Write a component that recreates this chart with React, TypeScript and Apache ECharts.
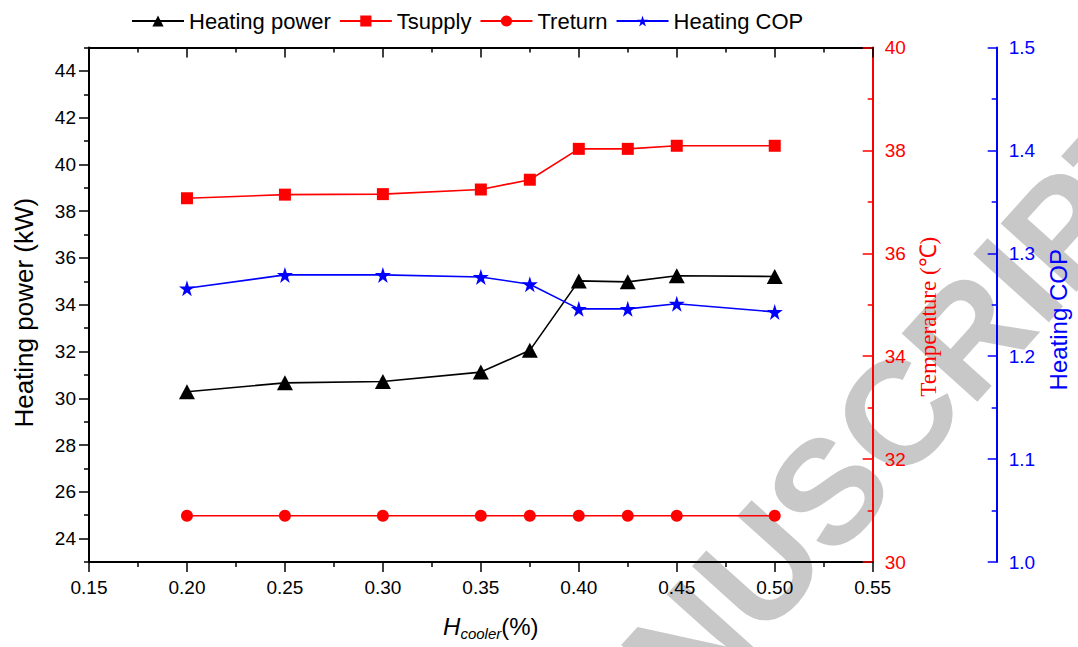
import React, { useEffect, useRef } from 'react';
import * as echarts from 'echarts';

// ---- data ----
const seriesNames = ['Heating power', 'Tsupply', 'Treturn', 'Heating COP'];
const hCooler = [0.2, 0.25, 0.3, 0.35, 0.375, 0.4, 0.425, 0.45, 0.5];
const heatingPower = [30.28, 30.66, 30.72, 31.12, 32.05, 35.02, 34.98, 35.24, 35.21];
const tSupply = [37.07, 37.14, 37.15, 37.24, 37.43, 38.03, 38.03, 38.09, 38.09];
const tReturn = [30.9, 30.9, 30.9, 30.9, 30.9, 30.9, 30.9, 30.9, 30.9];
const heatingCOP = [1.266, 1.279, 1.279, 1.277, 1.270, 1.246, 1.246, 1.251, 1.243];

const xTickLabels = [0.15, 0.2, 0.25, 0.3, 0.35, 0.4, 0.45, 0.5, 0.55];
const powerMajorTicks = [24, 26, 28, 30, 32, 34, 36, 38, 40, 42, 44];
const powerMinorTicks = [23, 25, 27, 29, 31, 33, 35, 37, 39, 41, 43, 45];
const tempRange = [30, 40];
const copRange = [1.0, 1.5];
const powerRange = [23, 45];
const xRange = [0.15, 0.55];

const STAR = 'path://M50,0 L61,35 L98,35 L68,57 L79,91 L50,70 L21,91 L32,57 L2,35 L39,35 Z';
const SANS = 'Liberation Sans, Arial, sans-serif';

export default function App() {
  const ref = useRef<HTMLDivElement>(null);
  useEffect(() => {
    if (!ref.current) return;
    const chart = echarts.init(ref.current, undefined, { renderer: 'svg' });
    const pair = (ys: number[]) => hCooler.map((x, i) => [x, ys[i]]);
    const black = '#000000';
    const red = '#ff0000';
    const blue = '#0000ff';
    const option: any = {
      animation: false,
      backgroundColor: '#ffffff',
      graphic: [
        {
          type: 'text',
          x: 652,
          y: 686,
          rotation: (48 * Math.PI) / 180,
          z: -10,
          silent: true,
          style: {
            text: 'NUSCRIPT',
            font: 'bold 148px "Liberation Sans", Arial, sans-serif',
            fill: '#c8c8c8',
            align: 'left',
            verticalAlign: 'middle',
          },
        },
      ],
      legend: {
        data: seriesNames,
        left: 126,
        top: 5,
        itemWidth: 52,
        itemHeight: 14,
        itemGap: 8,
        textStyle: { fontSize: 22, fontFamily: SANS, color: black },
      },
      grid: { left: 89, right: 204.5, top: 47.5, bottom: 85, containLabel: false },
      xAxis: [
        {
          type: 'value',
          position: 'bottom',
          min: xRange[0],
          max: xRange[1],
          interval: 0.05,
          axisLine: { onZero: false, lineStyle: { color: black, width: 2 } },
          axisTick: { length: 10, lineStyle: { color: black, width: 1.5 } },
          minorTick: { show: true, splitNumber: 2, length: 5, lineStyle: { color: black, width: 1.5 } },
          axisLabel: {
            customValues: xTickLabels,
            margin: 16,
            fontSize: 19,
            fontFamily: SANS,
            color: black,
            formatter: (v: number) => v.toFixed(2),
          },
          splitLine: { show: false },
          name: '{h|H}{s|cooler}{p|(%)}',
          nameLocation: 'middle',
          nameGap: 49,
          nameTextStyle: {
            padding: [0, 0, 0, 20],
            rich: {
              h: { fontSize: 24, fontStyle: 'italic', fontFamily: SANS, color: black, lineHeight: 30 },
              s: { fontSize: 15, fontStyle: 'italic', fontFamily: SANS, color: black, lineHeight: 8, verticalAlign: 'bottom' },
              p: { fontSize: 24, fontFamily: SANS, color: black, lineHeight: 30 },
            },
          },
        },
        {
          type: 'value',
          position: 'top',
          min: xRange[0],
          max: xRange[1],
          interval: 0.05,
          axisLine: { onZero: false, lineStyle: { color: black, width: 2 } },
          axisTick: { inside: true, length: 10, lineStyle: { color: black, width: 1.5 } },
          minorTick: { show: true, splitNumber: 2, length: 5, lineStyle: { color: black, width: 1.5 } },
          axisLabel: { show: false },
          splitLine: { show: false },
        },
      ],
      yAxis: [
        {
          type: 'value',
          position: 'left',
          min: powerRange[0],
          max: powerRange[1],
          axisLine: { show: true, onZero: false, lineStyle: { color: black, width: 2 } },
          axisTick: { show: true, customValues: powerMajorTicks, length: 10, lineStyle: { color: black, width: 1.5 } },
          axisLabel: { customValues: powerMajorTicks, margin: 13, fontSize: 19, fontFamily: SANS, color: black },
          splitLine: { show: false },
          name: 'Heating power (kW)',
          nameLocation: 'middle',
          nameRotate: 90,
          nameGap: 52,
          nameTextStyle: { fontSize: 26, fontFamily: SANS, color: black, padding: [0, 16, 0, 0] },
        },
        {
          type: 'value',
          position: 'left',
          min: powerRange[0],
          max: powerRange[1],
          axisLine: { show: false, onZero: false },
          axisTick: { show: true, customValues: powerMinorTicks, length: 5, lineStyle: { color: black, width: 1.5 } },
          axisLabel: { show: false },
          splitLine: { show: false },
        },
        {
          type: 'value',
          position: 'right',
          offset: 0,
          min: tempRange[0],
          max: tempRange[1],
          interval: 2,
          axisLine: { show: true, onZero: false, lineStyle: { color: red, width: 2 } },
          axisTick: { show: true, inside: true, length: 10, lineStyle: { color: red, width: 1.5 } },
          minorTick: { show: true, splitNumber: 2, length: 5, lineStyle: { color: red, width: 1.5 } },
          axisLabel: { margin: 12, fontSize: 19, fontFamily: SANS, color: red },
          splitLine: { show: false },
          name: 'Temperature (℃)',
          nameLocation: 'middle',
          nameRotate: 90,
          nameGap: 44,
          nameTextStyle: { fontSize: 23, fontFamily: 'Liberation Serif, Times New Roman, serif', color: red, padding: [0, 24, 0, 0] },
        },
        {
          type: 'value',
          position: 'right',
          offset: 124,
          min: copRange[0],
          max: copRange[1],
          interval: 0.1,
          axisLine: { show: true, onZero: false, lineStyle: { color: blue, width: 2 } },
          axisTick: { show: true, inside: true, length: 9, lineStyle: { color: blue, width: 1.5 } },
          minorTick: { show: true, splitNumber: 2, length: 5, lineStyle: { color: blue, width: 1.5 } },
          axisLabel: { margin: 12, fontSize: 19, fontFamily: SANS, color: blue, formatter: (v: number) => v.toFixed(1) },
          splitLine: { show: false },
          name: 'Heating COP',
          nameLocation: 'middle',
          nameRotate: 90,
          nameGap: 49,
          nameTextStyle: { fontSize: 24, fontFamily: SANS, color: blue, padding: [0, 30, 0, 0] },
        },
      ],
      series: [
        {
          name: seriesNames[0],
          type: 'line',
          xAxisIndex: 0,
          yAxisIndex: 0,
          data: pair(heatingPower),
          symbol: 'triangle',
          symbolSize: [16, 15],
          lineStyle: { color: black, width: 1.6 },
          itemStyle: { color: black },
          z: 3,
        },
        {
          name: seriesNames[1],
          type: 'line',
          xAxisIndex: 0,
          yAxisIndex: 2,
          data: pair(tSupply),
          symbol: 'rect',
          symbolSize: 12,
          lineStyle: { color: red, width: 1.6 },
          itemStyle: { color: red },
          z: 3,
        },
        {
          name: seriesNames[2],
          type: 'line',
          xAxisIndex: 0,
          yAxisIndex: 2,
          data: pair(tReturn),
          symbol: 'circle',
          symbolSize: 12,
          lineStyle: { color: red, width: 1.6 },
          itemStyle: { color: red },
          z: 3,
        },
        {
          name: seriesNames[3],
          type: 'line',
          xAxisIndex: 0,
          yAxisIndex: 3,
          data: pair(heatingCOP),
          symbol: STAR,
          symbolSize: 16,
          lineStyle: { color: blue, width: 1.6 },
          itemStyle: { color: blue },
          z: 3,
        },
      ],
    };
    chart.setOption(option);
    return () => chart.dispose();
  }, []);
  return (
    <div
      ref={ref}
      style={{ position: 'fixed', left: 0, top: 0, width: 1078, height: 647, background: '#fff' }}
    />
  );
}
